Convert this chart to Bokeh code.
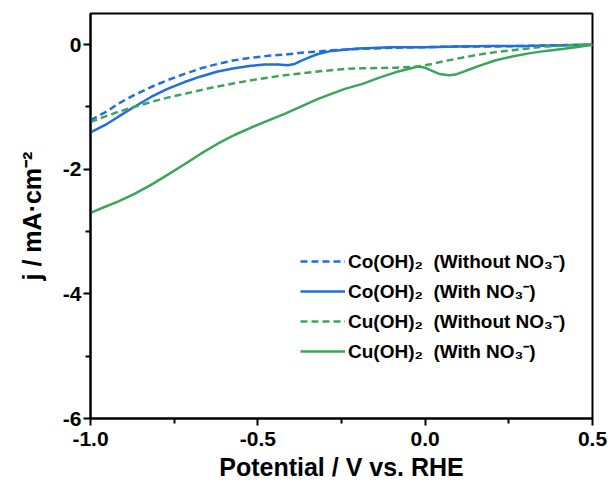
from bokeh.plotting import figure
from bokeh.models import Range1d, FixedTicker, Legend, LegendItem
from bokeh.embed import file_html
from bokeh.resources import INLINE

# ---- data ----
co_wo_x = [-1.0, -0.95, -0.918, -0.87, -0.819, -0.77, -0.719, -0.67, -0.62, -0.57, -0.52, -0.47,
           -0.42, -0.37, -0.32, -0.28, -0.24, -0.2, -0.15, -0.1, 0.0, 0.1, 0.2, 0.3, 0.4, 0.5]
co_wo_y = [-1.21, -1.07, -0.95, -0.81, -0.68, -0.57, -0.47, -0.38, -0.31, -0.25, -0.21, -0.18,
           -0.16, -0.13, -0.11, -0.09, -0.08, -0.07, -0.06, -0.05, -0.04, -0.03, -0.03, -0.02, -0.01, 0.0]

co_w_x = [-1.0, -0.95, -0.918, -0.87, -0.819, -0.77, -0.719, -0.67, -0.62, -0.57, -0.52, -0.48,
          -0.44, -0.411, -0.39, -0.371, -0.345, -0.32, -0.28, -0.24, -0.2, -0.1, 0.0, 0.1, 0.2,
          0.3, 0.4, 0.5]
co_w_y = [-1.41, -1.27, -1.16, -1.0, -0.84, -0.71, -0.60, -0.51, -0.43, -0.38, -0.34, -0.32,
          -0.32, -0.33, -0.31, -0.26, -0.2, -0.15, -0.1, -0.08, -0.06, -0.04, -0.04, -0.03, -0.02,
          -0.02, -0.01, 0.0]

cu_wo_x = [-1.0, -0.95, -0.918, -0.87, -0.819, -0.77, -0.719, -0.67, -0.62, -0.57, -0.52, -0.47,
           -0.42, -0.37, -0.32, -0.24, -0.187, -0.087, -0.022, 0.02, 0.062, 0.11, 0.161, 0.21,
           0.26, 0.31, 0.36, 0.43, 0.5]
cu_wo_y = [-1.24, -1.14, -1.08, -1.0, -0.92, -0.85, -0.79, -0.73, -0.67, -0.62, -0.57, -0.53,
           -0.49, -0.46, -0.43, -0.39, -0.38, -0.37, -0.35, -0.31, -0.26, -0.21, -0.16, -0.12,
           -0.09, -0.06, -0.03, -0.01, 0.0]

cu_w_x = [-1.0, -0.96, -0.918, -0.87, -0.819, -0.77, -0.719, -0.67, -0.62, -0.57, -0.52, -0.47,
          -0.42, -0.37, -0.32, -0.28, -0.24, -0.187, -0.137, -0.087, -0.05, -0.022, 0.0, 0.012,
          0.042, 0.072, 0.09, 0.111, 0.136, 0.161, 0.211, 0.26, 0.31, 0.36, 0.41, 0.45, 0.5]
cu_w_y = [-2.70, -2.61, -2.52, -2.40, -2.25, -2.09, -1.92, -1.75, -1.59, -1.45, -1.33, -1.22,
          -1.11, -0.99, -0.87, -0.79, -0.71, -0.63, -0.53, -0.44, -0.39, -0.35, -0.37, -0.40,
          -0.47, -0.49, -0.48, -0.44, -0.39, -0.34, -0.25, -0.19, -0.14, -0.10, -0.07, -0.04, 0.0]

labels = ["Co(OH)\u2082  (Without NO\u2083\u207b)",
          "Co(OH)\u2082  (With NO\u2083\u207b)",
          "Cu(OH)\u2082  (Without NO\u2083\u207b)",
          "Cu(OH)\u2082  (With NO\u2083\u207b)"]

x_ticks = [-1.0, -0.5, 0.0, 0.5]
x_tick_labels = ["-1.0", "-0.5", "0.0", "0.5"]
x_minor = [-0.75, -0.25, 0.25]
y_ticks = [-6, -4, -2, 0]
y_tick_labels = ["-6", "-4", "-2", "0"]
y_minor = [-5, -3, -1]

BLUE = "#1f6fde"
GREEN = "#3aa65a"
FONT = "Liberation Sans"

p = figure(width=613, height=483, output_backend="svg", toolbar_location=None,
           x_range=Range1d(-1.0, 0.5), y_range=Range1d(-6, 0.5),
           min_border_left=90, min_border_right=21, min_border_top=13, min_border_bottom=65)
p.background_fill_color = "white"
p.border_fill_color = "white"
p.xgrid.visible = False
p.ygrid.visible = False
p.outline_line_color = "black"
p.outline_line_width = 2

r1 = p.line(co_wo_x, co_wo_y, line_color=BLUE, line_width=2.5, line_dash="7 4")
r2 = p.line(co_w_x, co_w_y, line_color=BLUE, line_width=2.5)
r3 = p.line(cu_wo_x, cu_wo_y, line_color=GREEN, line_width=2.5, line_dash="7 4")
r4 = p.line(cu_w_x, cu_w_y, line_color=GREEN, line_width=2.5)

legend = Legend(items=[LegendItem(label=labels[0], renderers=[r1]),
                       LegendItem(label=labels[1], renderers=[r2]),
                       LegendItem(label=labels[2], renderers=[r3]),
                       LegendItem(label=labels[3], renderers=[r4])],
                location=(210, 54), orientation="vertical")
legend.border_line_color = None
legend.background_fill_alpha = 0
legend.padding = 0
legend.margin = 0
legend.spacing = 4
legend.glyph_width = 45
legend.glyph_height = 20
legend.label_height = 20
legend.label_standoff = 3
legend.label_text_font = FONT
legend.label_text_font_style = "bold"
legend.label_text_font_size = "19px"
legend.label_text_color = "black"
p.add_layout(legend)

for ax in (p.xaxis[0], p.yaxis[0]):
    ax.axis_line_width = 2
    ax.axis_line_color = "black"
    ax.major_tick_line_width = 2
    ax.minor_tick_line_width = 2
    ax.major_tick_out = 7
    ax.major_tick_in = 0
    ax.minor_tick_out = 5
    ax.minor_tick_in = 0
    ax.major_label_text_font = FONT
    ax.major_label_text_font_style = "bold"
    ax.major_label_text_font_size = "21px"
    ax.major_label_text_color = "black"
    ax.axis_label_text_font = FONT
    ax.axis_label_text_font_style = "bold"
    ax.axis_label_text_font_size = "25px"
    ax.axis_label_text_color = "black"

p.xaxis.ticker = FixedTicker(ticks=x_ticks, minor_ticks=x_minor)
p.xaxis.major_label_overrides = dict(zip(x_ticks, x_tick_labels))
p.yaxis.ticker = FixedTicker(ticks=y_ticks, minor_ticks=y_minor)
p.yaxis.major_label_overrides = dict(zip(y_ticks, y_tick_labels))
p.xaxis.axis_label = "Potential / V vs. RHE"
p.yaxis.axis_label = "j / mA\u00b7cm\u207b\u00b2"
p.xaxis.major_label_standoff = 6
p.xaxis.axis_label_standoff = 4
p.yaxis.major_label_standoff = 2
p.yaxis.axis_label_standoff = 14

open("out.html", "w").write(file_html(p, INLINE))
